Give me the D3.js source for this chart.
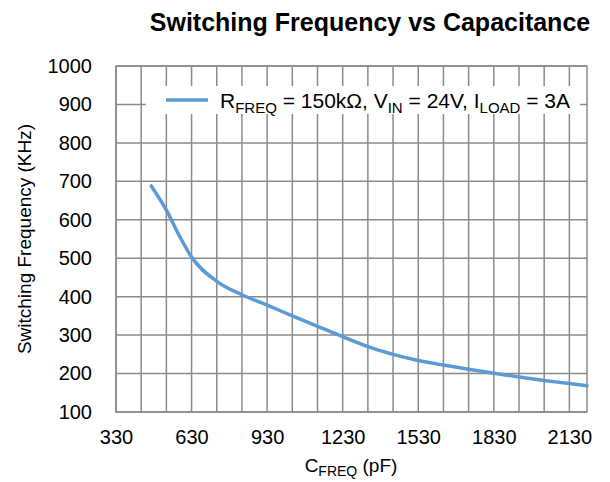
<!DOCTYPE html>
<html>
<head>
<meta charset="utf-8">
<script src="https://cdn.jsdelivr.net/npm/d3@7"></script>
<style>
  body { margin: 0; background: #fff; }
  text { font-family: "Liberation Sans", Arial, sans-serif; fill: #000; }
</style>
</head>
<body>
<svg id="chart" width="610" height="482"></svg>
<script>
const capacitance = [470, 530, 580, 630, 730, 830, 930, 1030, 1130, 1230, 1330, 1430, 1530, 1630, 1730, 1830, 1930, 2030, 2130, 2200];
const frequency   = [688, 625, 560, 503, 440, 405, 378, 350, 323, 296, 270, 250, 234, 222, 211, 201, 191, 182, 174, 168];
const xTicks = [330, 630, 930, 1230, 1530, 1830, 2130];
const xGrid = d3.range(330, 2131, 100);
const yTicks = [100, 200, 300, 400, 500, 600, 700, 800, 900, 1000];
const titleText = "Switching Frequency vs Capacitance";
const yLabel = "Switching Frequency (KHz)";

const svg = d3.select("#chart");
const pL = 116, pR = 587, pT = 66, pB = 412;
const x = d3.scaleLinear().domain([330, 2200]).range([pL, pR]);
const y = d3.scaleLinear().domain([100, 1000]).range([pB, pT]);
const gridColor = "#8a8a8a";

// grid
const g = svg.append("g");
g.selectAll("line.v").data(xGrid).enter().append("line")
  .attr("x1", d => x(d)).attr("x2", d => x(d)).attr("y1", pT).attr("y2", pB)
  .attr("stroke", gridColor).attr("stroke-width", 1.5);
g.selectAll("line.h").data(yTicks).enter().append("line")
  .attr("x1", pL).attr("x2", pR).attr("y1", d => y(d)).attr("y2", d => y(d))
  .attr("stroke", gridColor).attr("stroke-width", 1.5);
g.append("rect").attr("x", pL).attr("y", pT).attr("width", pR-pL).attr("height", pB-pT)
  .attr("fill", "none").attr("stroke", gridColor).attr("stroke-width", 1.5);

// axes labels
const fmt = d3.format("d");
const yAxis = d3.axisLeft(y).tickValues(yTicks).tickFormat(fmt).tickSize(0).tickPadding(24);
svg.append("g").attr("transform", `translate(${pL},0)`).call(yAxis)
  .call(s => s.select(".domain").remove())
  .selectAll("text").attr("font-size", 20).style("font-family", "Liberation Sans, Arial, sans-serif").attr("fill", "#000");
const xAxis = d3.axisBottom(x).tickValues(xTicks).tickFormat(fmt).tickSize(0).tickPadding(18);
svg.append("g").attr("transform", `translate(0,${pB})`).call(xAxis)
  .call(s => s.select(".domain").remove())
  .selectAll("text").attr("font-size", 20).style("font-family", "Liberation Sans, Arial, sans-serif").attr("fill", "#000");

// line
const line = d3.line().x((d, i) => x(capacitance[i])).y(d => y(d)).curve(d3.curveMonotoneX);
svg.append("path").datum(frequency).attr("d", line)
  .attr("fill", "none").attr("stroke", "#5B9BD5").attr("stroke-width", 3.5).attr("stroke-linecap", "round");

// legend
svg.append("rect").attr("x", 146).attr("y", 86).attr("width", 434).attr("height", 28).attr("fill", "#fff");
svg.append("line").attr("x1", 166).attr("x2", 208).attr("y1", 100).attr("y2", 100)
  .attr("stroke", "#5B9BD5").attr("stroke-width", 3.5);
const lt = svg.append("text").attr("x", 220).attr("y", 108).attr("font-size", 21);
const sub = (t) => lt.append("tspan").attr("font-size", 15).attr("dy", 5).text(t);
const norm = (t) => lt.append("tspan").attr("font-size", 21).attr("dy", -5).text(t);
lt.append("tspan").text("R");
sub("FREQ"); norm(" = 150kΩ, V");
sub("IN"); norm(" = 24V, I");
sub("LOAD"); norm(" = 3A");

// title
svg.append("text").attr("x", 370).attr("y", 31).attr("text-anchor", "middle")
  .attr("font-size", 25).attr("font-weight", "bold").text(titleText);

// x label
const xl = svg.append("text").attr("x", 351).attr("y", 472).attr("text-anchor", "middle").attr("font-size", 19);
xl.append("tspan").text("C");
xl.append("tspan").attr("font-size", 14).attr("dy", 4).text("FREQ");
xl.append("tspan").attr("dy", -4).text(" (pF)");

// y label
svg.append("text").attr("transform", `translate(31,${(pT+pB)/2}) rotate(-90)`)
  .attr("text-anchor", "middle").attr("font-size", 19).text(yLabel);
</script>
</body>
</html>
